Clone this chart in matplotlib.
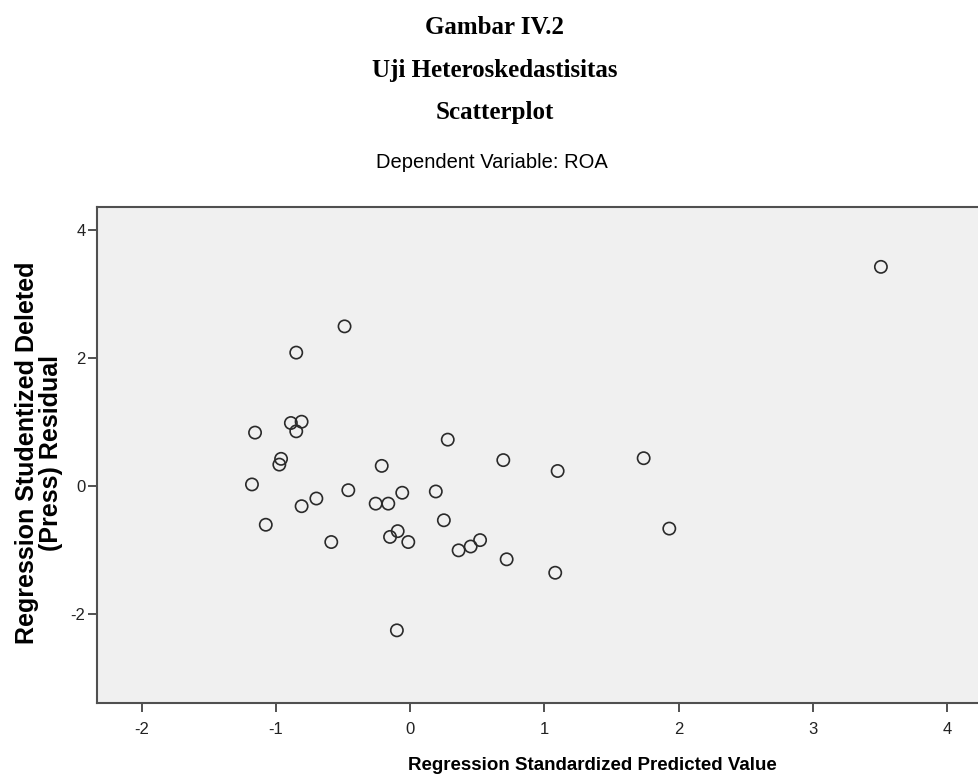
import numpy as np
import matplotlib.pyplot as plt

# standardized predicted value vs studentized deleted residual
pred = [-0.49, -0.85, -0.89, -0.81, -0.85, -1.157, -0.963, -0.976, 0.279, 0.693,
        -0.213, -1.18, -0.81, -0.70, -1.077, -0.589, -0.462, -0.258, -0.164, -0.06,
        0.19, 0.25, -0.151, -0.094, -0.015, 0.36, 0.45, 0.52, 0.718, -0.10,
        1.098, 1.739, 1.93, 1.08, 3.507]
resid = [2.50, 2.09, 0.99, 1.01, 0.86, 0.84, 0.43, 0.34, 0.73, 0.41,
         0.32, 0.03, -0.31, -0.19, -0.60, -0.87, -0.06, -0.27, -0.27, -0.10,
         -0.08, -0.53, -0.79, -0.70, -0.87, -1.00, -0.94, -0.84, -1.14, -2.25,
         0.24, 0.44, -0.66, -1.35, 3.43]
xticks = [-2, -1, 0, 1, 2, 3, 4]
yticks = [-2, 0, 2, 4]

plt.rcParams['axes.unicode_minus'] = False

fig = plt.figure(figsize=(9.79, 7.8), dpi=100)

serif = ['Liberation Serif', 'DejaVu Serif']
sans = ['Liberation Sans', 'DejaVu Sans']
fig.text(0.505, 1 - 27/780, 'Gambar IV.2', ha='center', va='center', fontsize=18, weight='bold', family=serif)
fig.text(0.505, 1 - 70/780, 'Uji Heteroskedastisitas', ha='center', va='center', fontsize=18, weight='bold', family=serif)
fig.text(0.505, 1 - 112/780, 'Scatterplot', ha='center', va='center', fontsize=18, weight='bold', family=serif)
fig.text(0.502, 1 - 163/780, 'Dependent Variable: ROA', ha='center', va='center', fontsize=14.5, family=sans)

ax = fig.add_axes([96.7/979, 1 - 703.3/780, 1 - 96.7/979, (703.3 - 206.7)/780])
ax.set_facecolor('#f0f0f0')
ax.scatter(pred, resid, s=78, facecolors='none', edgecolors='#2a2a2a', linewidths=1.2)

ax.set_xlim(-2.337, 4.238)
ax.set_ylim(-3.39, 4.37)
ax.set_xticks(xticks)
ax.set_yticks(yticks)
ax.tick_params(direction='out', length=6.5, width=1.2, color='#333333', labelsize=12, labelcolor='#222222')
ax.tick_params(axis='x', pad=7)
ax.tick_params(axis='y', pad=1.5)
for s in ['left', 'bottom', 'top']:
    ax.spines[s].set_color('#505050')
    ax.spines[s].set_linewidth(1.5)
ax.spines['right'].set_visible(False)
for lab in ax.get_xticklabels() + ax.get_yticklabels():
    lab.set_family(sans)

ax.set_xlabel('Regression Standardized Predicted Value', fontsize=13.5, weight='bold', family=sans)
ax.xaxis.set_label_coords((592 - 96.7)/(979 - 96.7), (703.3 - 766)/496.6)
ax.xaxis.label.set_va('center')
ax.set_ylabel('Regression Studentized Deleted\n(Press) Residual', fontsize=18, weight='bold', family=sans,
              linespacing=1.0)
ax.yaxis.set_label_coords(-(96.7 - 39.5)/882.3, (703.3 - 453)/496.6)
ax.yaxis.label.set_va('center')

fig.savefig('out.png', dpi=100)
